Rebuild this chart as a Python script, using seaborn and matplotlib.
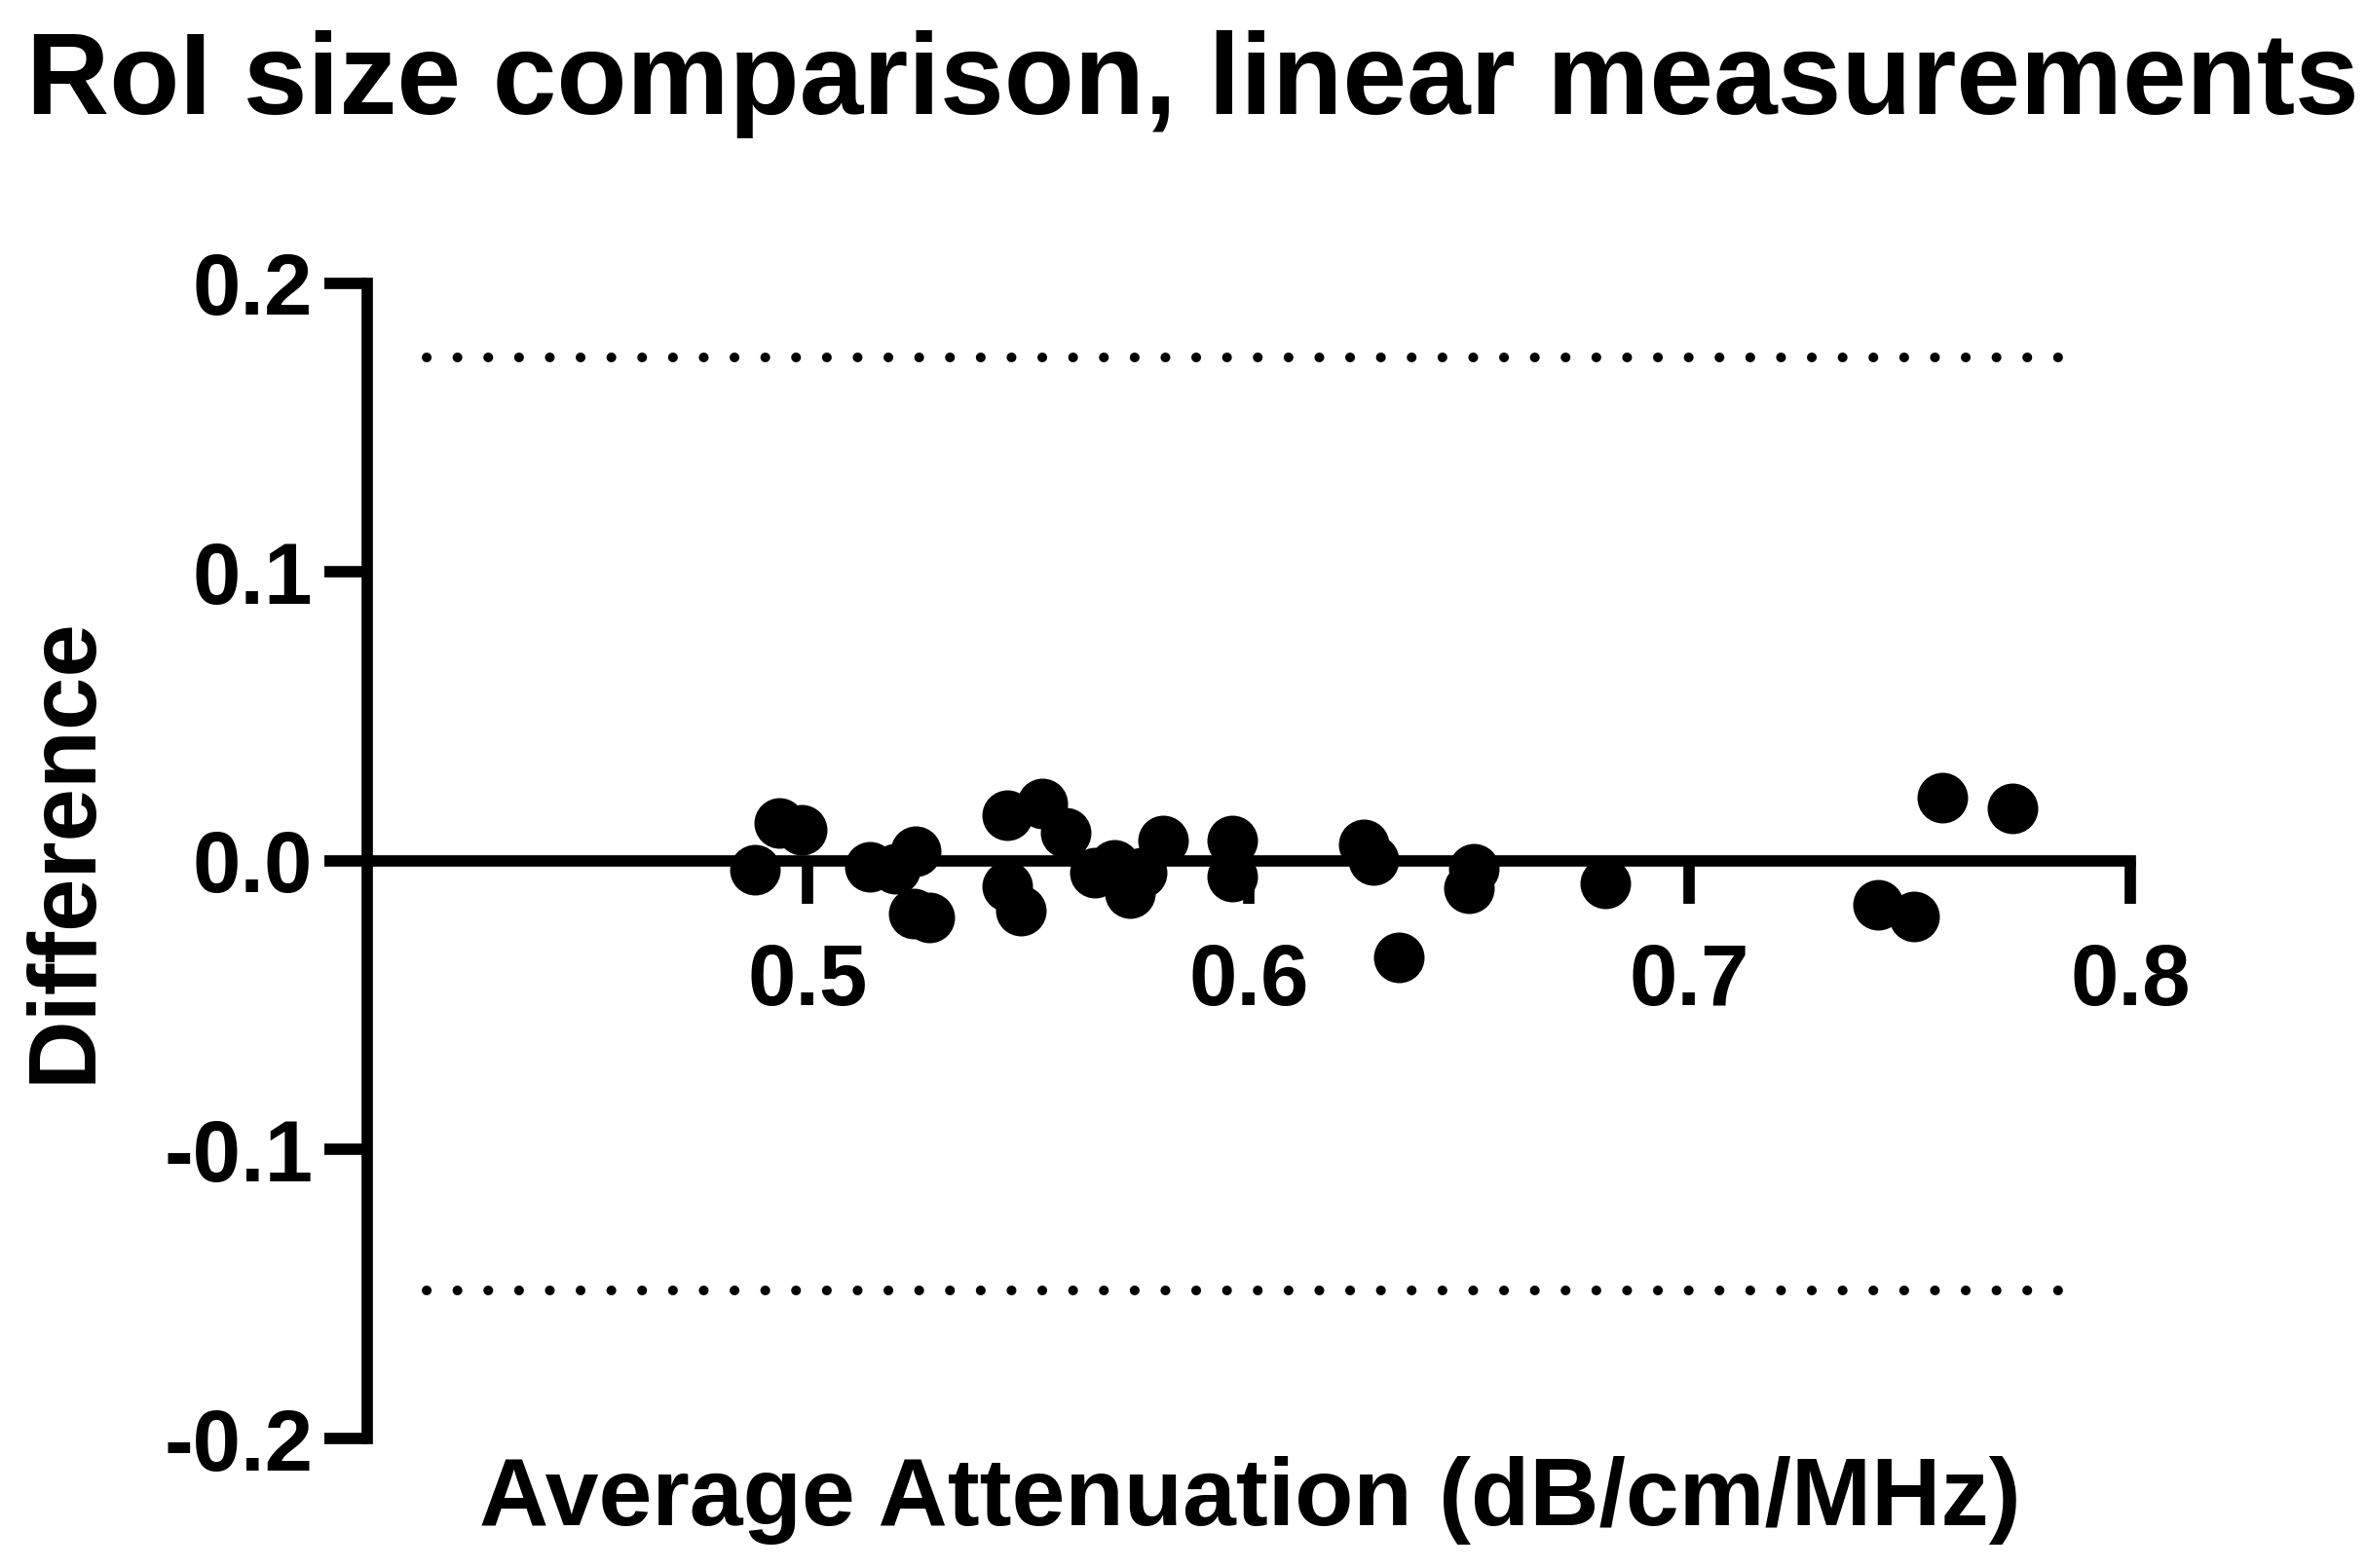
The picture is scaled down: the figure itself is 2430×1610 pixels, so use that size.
import numpy as np
import pandas as pd
import matplotlib.pyplot as plt
import seaborn as sns

# data (Bland-Altman style)
avg_atten = [0.4880, 0.4935, 0.4985, 0.5140, 0.5198, 0.5245, 0.5240, 0.5276,
             0.5451, 0.5531, 0.5584, 0.5451, 0.5484, 0.5651, 0.5695, 0.5731,
             0.5757, 0.5806, 0.5963, 0.5963, 0.6260, 0.6282, 0.6510, 0.6499,
             0.6340, 0.6809, 0.7573, 0.7732, 0.7428, 0.7510]
difference = [-0.0030, 0.0132, 0.0108, -0.0020, -0.0027, 0.0034, -0.0182, -0.0196,
              0.0159, 0.0199, 0.0098, -0.0088, -0.0172, -0.0040, -0.0013, -0.0111,
              -0.0040, 0.0071, 0.0071, -0.0054, 0.0057, 0.0003, -0.0027, -0.0094,
              -0.0334, -0.0078, 0.0219, 0.0182, -0.0152, -0.0192]
limits = [0.1744, -0.1487]      # limits of agreement
limit_span = [0.4134, 0.7904]   # x range of the dotted lines
x_ticks = [0.5, 0.6, 0.7, 0.8]
y_ticks = [-0.2, -0.1, 0.0, 0.1, 0.2]

df = pd.DataFrame({"avg": avg_atten, "diff": difference})

sns.set_theme(style="ticks")
plt.rcParams["font.family"] = ["Liberation Sans Narrow", "Liberation Sans", "DejaVu Sans"]
plt.rcParams["font.weight"] = "bold"
plt.rcParams["axes.unicode_minus"] = False
plt.rcParams["text.color"] = "black"
plt.rcParams["axes.labelcolor"] = "black"

fig = plt.figure(figsize=(24.3, 16.1), dpi=100)
ax = fig.add_axes([0.1551, 0.0826, 0.7449, 0.7367])

sns.scatterplot(data=df, x="avg", y="diff", ax=ax, color="black",
                s=1400, linewidth=0, zorder=3)

# dotted lines for limits of agreement
for lim in limits:
    ax.plot(limit_span, [lim, lim], color="black", linewidth=7.2,
            linestyle=(0, (0.01, 3.15)), dash_capstyle="round")

ax.set_xlim(0.4, 0.8)
ax.set_ylim(-0.2, 0.2)
ax.set_xticks(x_ticks)
ax.set_xticklabels([f"{v:.1f}" for v in x_ticks])
ax.set_yticks(y_ticks)
ax.set_yticklabels([f"{v:.1f}" for v in y_ticks])

ax.spines["top"].set_visible(False)
ax.spines["right"].set_visible(False)
ax.spines["bottom"].set_position(("data", 0))
for s in ["left", "bottom"]:
    ax.spines[s].set_linewidth(8.4)
    ax.spines[s].set_color("black")

ax.tick_params(axis="both", length=32, width=8.4, color="black",
               labelsize=64, labelcolor="black")
ax.tick_params(axis="x", pad=28)
ax.tick_params(axis="y", pad=8)
for lbl in ax.get_xticklabels() + ax.get_yticklabels():
    lbl.set_fontweight("bold")

ax.set_xlabel("Average Attenuation (dB/cm/MHz)", fontsize=71, fontweight="bold", color="black")
ax.set_ylabel("Difference", fontsize=70.5, fontweight="bold", color="black")
ax.xaxis.set_label_coords(0.501, -0.015)
ax.yaxis.set_label_coords(-0.146, 0.5097)

fig.text(0.504, 1 - 117 / 1610, "RoI size comparison, linear measurements",
         fontsize=85, fontweight="bold", ha="center", va="baseline", color="black")

fig.savefig("out.png", dpi=100, facecolor="white")
